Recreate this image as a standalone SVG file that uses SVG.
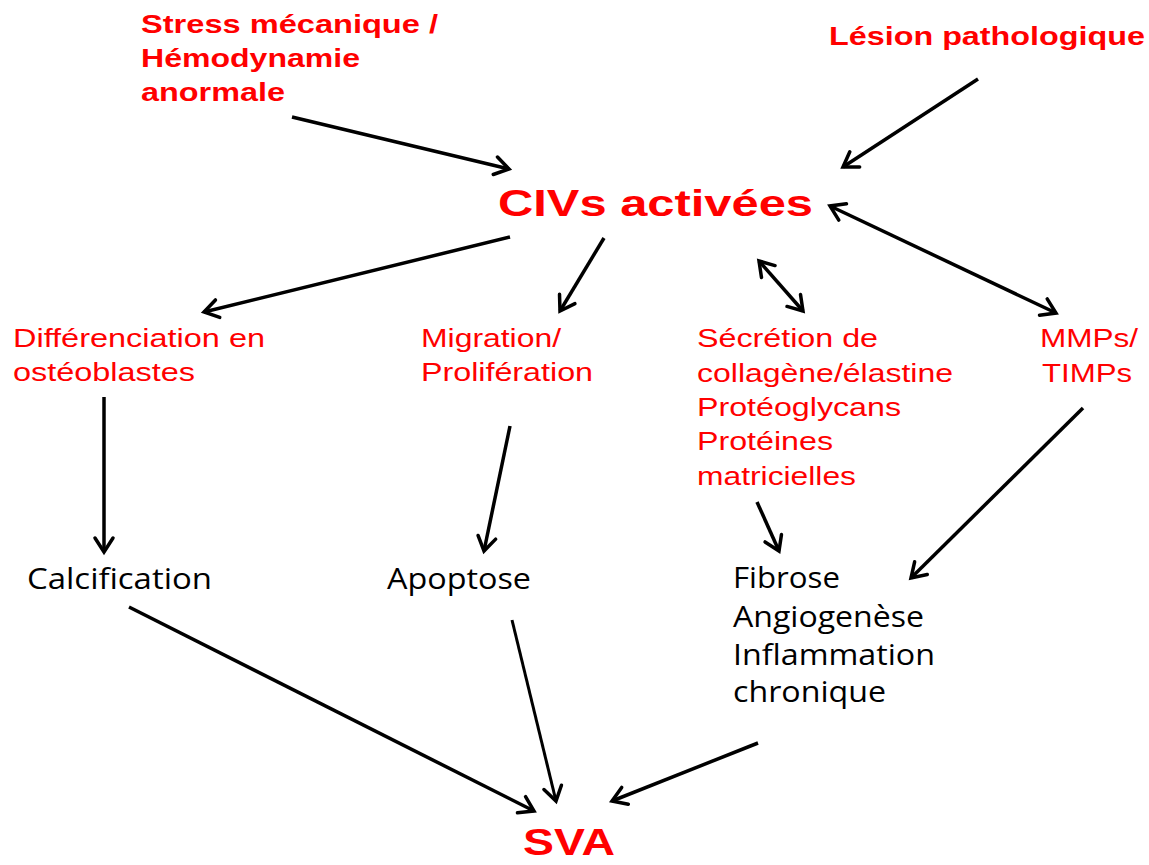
<svg xmlns="http://www.w3.org/2000/svg" width="1149" height="865" viewBox="0 0 1149 865">
<style>
.rb{font-family:"Liberation Sans",Arial,sans-serif;font-weight:bold;fill:#ff0000;font-size:25px}
.rr{font-family:"Liberation Sans",Arial,sans-serif;fill:#ff0000;font-size:26px}
.big{font-family:"Liberation Sans",Arial,sans-serif;font-weight:bold;fill:#ff0000;font-size:36px}
.bk{font-family:"Open Sans","Noto Sans",sans-serif;fill:#000;font-size:29px}
.c{stroke:#000;stroke-width:3.5;fill:none;marker-end:url(#ah)}
.d{stroke:#000;stroke-width:3.5;fill:none;marker-end:url(#ah);marker-start:url(#ah)}
</style>
<defs>
<marker id="ah" markerUnits="userSpaceOnUse" markerWidth="24" markerHeight="24" viewBox="0 0 24 24" refX="19" refY="12" orient="auto-start-reverse">
<path d="M5,3 L19,12 L5,21" fill="none" stroke="#000" stroke-width="3.5" stroke-linecap="round"/>
</marker>
</defs>
<rect width="1149" height="865" fill="#fff"/>
<g id="stress">
<text class="rb" x="141" y="33" textLength="297" lengthAdjust="spacingAndGlyphs">Stress mécanique /</text>
<text class="rb" x="141" y="67" textLength="219" lengthAdjust="spacingAndGlyphs">Hémodynamie</text>
<text class="rb" x="141" y="101" textLength="144" lengthAdjust="spacingAndGlyphs">anormale</text>
</g>
<g id="lesion">
<text class="rb" x="829" y="45" textLength="316" lengthAdjust="spacingAndGlyphs">Lésion pathologique</text>
</g>
<g id="civs">
<text class="big" x="498" y="216" textLength="315" lengthAdjust="spacingAndGlyphs">CIVs activées</text>
</g>
<g id="differenciation">
<text class="rr" x="13" y="347" textLength="252" lengthAdjust="spacingAndGlyphs">Différenciation en</text>
<text class="rr" x="13" y="381" textLength="182" lengthAdjust="spacingAndGlyphs">ostéoblastes</text>
</g>
<g id="migration">
<text class="rr" x="421" y="347" textLength="140" lengthAdjust="spacingAndGlyphs">Migration/</text>
<text class="rr" x="421" y="381" textLength="172" lengthAdjust="spacingAndGlyphs">Prolifération</text>
</g>
<g id="secretion">
<text class="rr" x="697" y="347" textLength="181" lengthAdjust="spacingAndGlyphs">Sécrétion de</text>
<text class="rr" x="697" y="382" textLength="256" lengthAdjust="spacingAndGlyphs">collagène/élastine</text>
<text class="rr" x="697" y="416" textLength="204" lengthAdjust="spacingAndGlyphs">Protéoglycans</text>
<text class="rr" x="697" y="450" textLength="136" lengthAdjust="spacingAndGlyphs">Protéines</text>
<text class="rr" x="697" y="485" textLength="159" lengthAdjust="spacingAndGlyphs">matricielles</text>
</g>
<g id="mmps">
<text class="rr" x="1040" y="347" textLength="98" lengthAdjust="spacingAndGlyphs">MMPs/</text>
<text class="rr" x="1042" y="382" textLength="90" lengthAdjust="spacingAndGlyphs">TIMPs</text>
</g>
<g id="calcification">
<text class="bk" x="27" y="589" textLength="185" lengthAdjust="spacingAndGlyphs">Calcification</text>
</g>
<g id="apoptose">
<text class="bk" x="387" y="589" textLength="144" lengthAdjust="spacingAndGlyphs">Apoptose</text>
</g>
<g id="fibrose">
<text class="bk" x="733" y="588" textLength="107" lengthAdjust="spacingAndGlyphs">Fibrose</text>
<text class="bk" x="733" y="627" textLength="191" lengthAdjust="spacingAndGlyphs">Angiogenèse</text>
<text class="bk" x="733" y="665" textLength="202" lengthAdjust="spacingAndGlyphs">Inflammation</text>
<text class="bk" x="733" y="702" textLength="153" lengthAdjust="spacingAndGlyphs">chronique</text>
</g>
<g id="sva">
<text class="big" x="523" y="855" font-size="35" textLength="92" lengthAdjust="spacingAndGlyphs">SVA</text>
</g>
<g id="connectors">
<line class="c" x1="292" y1="117" x2="509" y2="169"/>
<line class="c" x1="978" y1="79" x2="843" y2="167"/>
<line class="c" x1="510" y1="237" x2="204" y2="312"/>
<line class="c" x1="604" y1="238" x2="560" y2="311"/>
<line class="d" x1="759" y1="261" x2="803" y2="311"/>
<line class="d" x1="830" y1="206" x2="1056" y2="313"/>
<line class="c" x1="104" y1="397" x2="104" y2="552"/>
<line class="c" x1="510" y1="426" x2="484" y2="551"/>
<line class="c" x1="757" y1="502" x2="779" y2="551"/>
<line class="c" x1="1083" y1="408" x2="911" y2="578"/>
<line class="c" x1="129" y1="607" x2="534" y2="811"/>
<line class="c" x1="512" y1="620" x2="556" y2="801" style="stroke-width:3"/>
<line class="c" x1="758" y1="743" x2="612" y2="801"/>
</g>
</svg>
